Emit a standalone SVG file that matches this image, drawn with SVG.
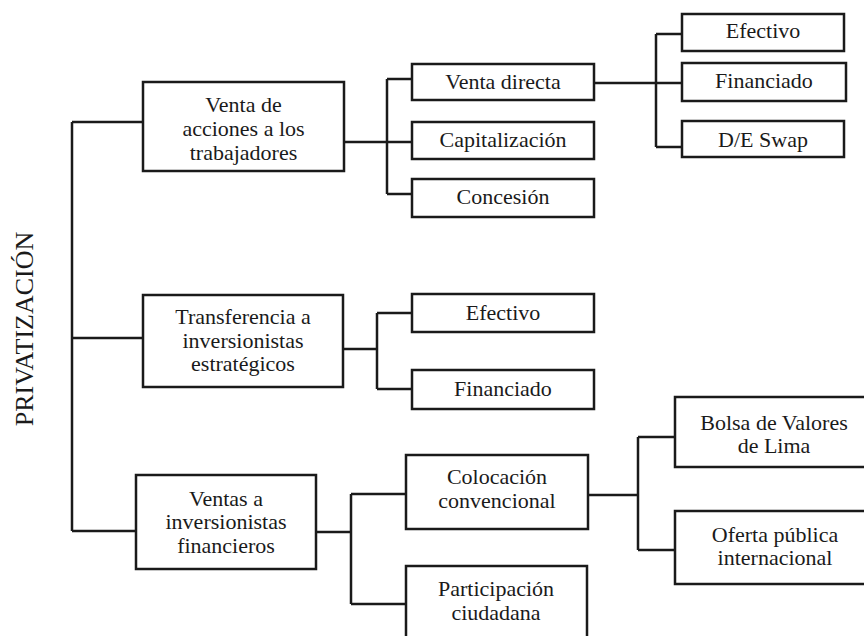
<svg xmlns="http://www.w3.org/2000/svg" width="864" height="636" viewBox="0 0 864 636">
<style>
.box{fill:#fff;stroke:#1a1a1a;stroke-width:2.5}
.ln{fill:none;stroke:#1a1a1a;stroke-width:2.5}
text{font-family:'Liberation Serif','Times New Roman',Times,'DejaVu Serif',serif;font-size:22px;fill:#1a1a1a;text-anchor:middle}
text.root{font-size:26px}
</style>
<rect width="864" height="636" fill="#fff"/>
<g id="connectors">
<path class="ln" d="M72,122 V531 M72,122 H143 M72,338 H143 M72,531 H136"/>
<path class="ln" d="M344,142 H412 M387,79 V194 M387,79 H412 M387,194 H412"/>
<path class="ln" d="M594,83 H682 M656,34 V147 M656,34 H682 M656,147 H682"/>
<path class="ln" d="M343,349 H377 M377,313 V389 M377,313 H412 M377,389 H412"/>
<path class="ln" d="M316,532 H351 M351,494 V604 M351,494 H406 M351,604 H406"/>
<path class="ln" d="M588,495 H638 M638,437 V550 M638,437 H675 M638,550 H675"/>
</g>
<g id="root"><text class="root" x="33" y="329" transform="rotate(-90 33 329)">PRIVATIZACIÓN</text></g>
<g id="n-venta-acciones"><rect class="box" x="143" y="82" width="201" height="89"/><text x="243.5" y="112">Venta de</text><text x="243.5" y="136">acciones a los</text><text x="243.5" y="160">trabajadores</text></g>
<g id="n-venta-directa"><rect class="box" x="412" y="64" width="182" height="36"/><text x="503" y="89">Venta directa</text></g>
<g id="n-capitalizacion"><rect class="box" x="412" y="122" width="182" height="37"/><text x="503" y="147">Capitalización</text></g>
<g id="n-concesion"><rect class="box" x="412" y="179" width="182" height="38"/><text x="503" y="204">Concesión</text></g>
<g id="n-efectivo1"><rect class="box" x="682" y="14" width="162" height="37"/><text x="763" y="38">Efectivo</text></g>
<g id="n-financiado1"><rect class="box" x="682" y="63" width="164" height="38"/><text x="764" y="88">Financiado</text></g>
<g id="n-deswap"><rect class="box" x="682" y="121" width="162" height="36"/><text x="763" y="147">D/E Swap</text></g>
<g id="n-transferencia"><rect class="box" x="143" y="295" width="200" height="92"/><text x="243" y="324">Transferencia a</text><text x="243" y="348">inversionistas</text><text x="243" y="371">estratégicos</text></g>
<g id="n-efectivo2"><rect class="box" x="412" y="294" width="182" height="38"/><text x="503" y="320">Efectivo</text></g>
<g id="n-financiado2"><rect class="box" x="412" y="370" width="182" height="39"/><text x="503" y="396">Financiado</text></g>
<g id="n-ventas-financieros"><rect class="box" x="136" y="475" width="180" height="94"/><text x="226" y="506">Ventas a</text><text x="226" y="529">inversionistas</text><text x="226" y="553">financieros</text></g>
<g id="n-colocacion"><rect class="box" x="406" y="455" width="182" height="74"/><text x="497" y="484">Colocación</text><text x="497" y="508">convencional</text></g>
<g id="n-participacion"><rect class="box" x="406" y="566" width="181" height="80"/><text x="496" y="596">Participación</text><text x="496" y="620">ciudadana</text></g>
<g id="n-bolsa"><rect class="box" x="675" y="397" width="198" height="70"/><text x="774" y="430">Bolsa de Valores</text><text x="774" y="453">de Lima</text></g>
<g id="n-oferta"><rect class="box" x="675" y="511" width="198" height="73"/><text x="775" y="542">Oferta pública</text><text x="775" y="565">internacional</text></g>
</svg>
